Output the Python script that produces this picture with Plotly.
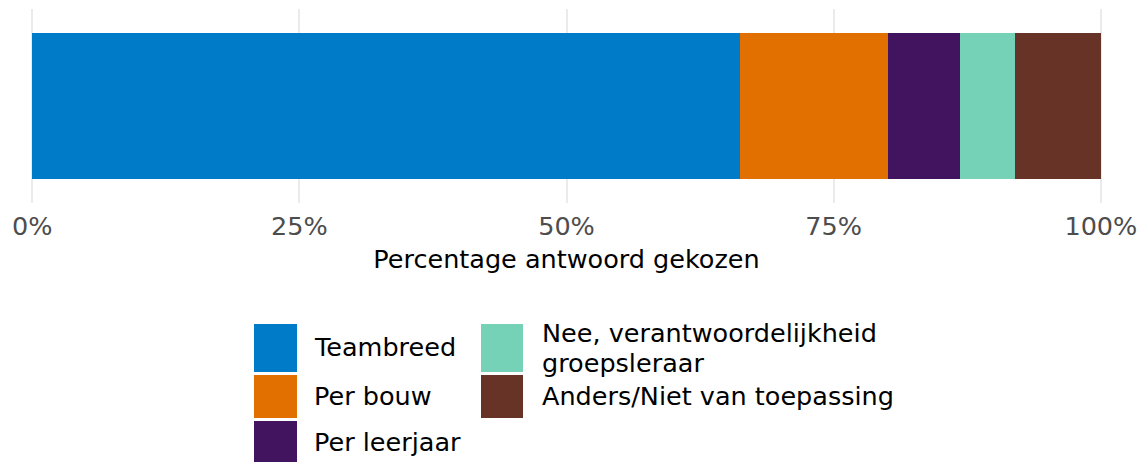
import plotly.graph_objects as go

# ---- data ----
categories = ["Teambreed", "Per bouw", "Per leerjaar",
              "Nee, verantwoordelijkheid<br>groepsleraar", "Anders/Niet van toepassing"]
values = [66.2, 13.9, 6.7, 5.2, 8.0]
colors = ["#007BC7", "#E17000", "#42145F", "#76D2B6", "#673327"]
tick_vals = [0, 25, 50, 75, 100]
tick_text = ["0%", "25%", "50%", "75%", "100%"]
x_title = "Percentage antwoord gekozen"

W, H = 1145, 462
FONT = "DejaVu Sans"
FS = 25.5

fig = go.Figure()
for cat, val, col in zip(categories, values, colors):
    fig.add_trace(go.Bar(
        x=[val], y=[0], orientation="h", name=cat.replace("<br>", " "),
        marker=dict(color=col, line=dict(width=0)),
        width=0.9, showlegend=False, hoverinfo="x+name",
    ))

def px(x):
    return x / W

def py(y):
    return 1 - y / H

# ---- custom legend (large ggplot-style keys) ----
legend_layout = [
    (0, 254, 297, 312, 324, 372),
    (1, 254, 297, 312, 375, 418),
    (2, 254, 297, 312, 421, 464),
    (3, 481, 523, 540, 324, 372),
    (4, 481, 523, 540, 375, 418),
]
for idx, x0, x1, xt, y0, y1 in legend_layout:
    fig.add_shape(type="rect", xref="paper", yref="paper",
                  x0=px(x0), x1=px(x1), y0=py(y1), y1=py(y0),
                  fillcolor=colors[idx], line=dict(width=0), layer="above")
    lines = categories[idx].split("<br>")
    if len(lines) == 1:
        centers = [(y0 + y1) / 2 - 1]
    else:
        mid = (y0 + y1) / 2
        centers = [mid - 15.3, mid + 15.3]
    for ln, cy in zip(lines, centers):
        fig.add_annotation(x=px(xt), y=py(cy), xref="paper", yref="paper",
                           text=ln, showarrow=False, xanchor="left", yanchor="middle",
                           font=dict(family=FONT, size=FS, color="#000000"))

fig.update_layout(
    width=W, height=H,
    margin=dict(l=0, r=0, t=0, b=0, pad=0),
    barmode="stack",
    plot_bgcolor="white", paper_bgcolor="white",
    font=dict(family=FONT, size=FS),
    showlegend=False,
    bargap=0,
    xaxis=dict(
        domain=[30 / W, 1103 / W],
        range=[-0.2, 100.2],
        tickvals=tick_vals, ticktext=tick_text,
        showgrid=True, gridcolor="#EBEBEB", gridwidth=2.2,
        zeroline=False, showline=False, ticks="",
        tickfont=dict(family=FONT, size=FS, color="#4D4D4D"),
        ticklabelstandoff=5,
        title=dict(text=x_title, font=dict(family=FONT, size=FS, color="#000000"),
                   standoff=10),
        automargin=False,
        anchor="y",
    ),
    yaxis=dict(
        domain=[(H - 203) / H, (H - 9) / H],
        range=[-0.6, 0.6],
        showgrid=False, zeroline=False, showline=False,
        showticklabels=False, ticks="",
        automargin=False,
    ),
)

fig.write_html("out.html",
               config={"displayModeBar": False},
               post_script="document.body.style.margin='0px';document.body.style.padding='0px';")
